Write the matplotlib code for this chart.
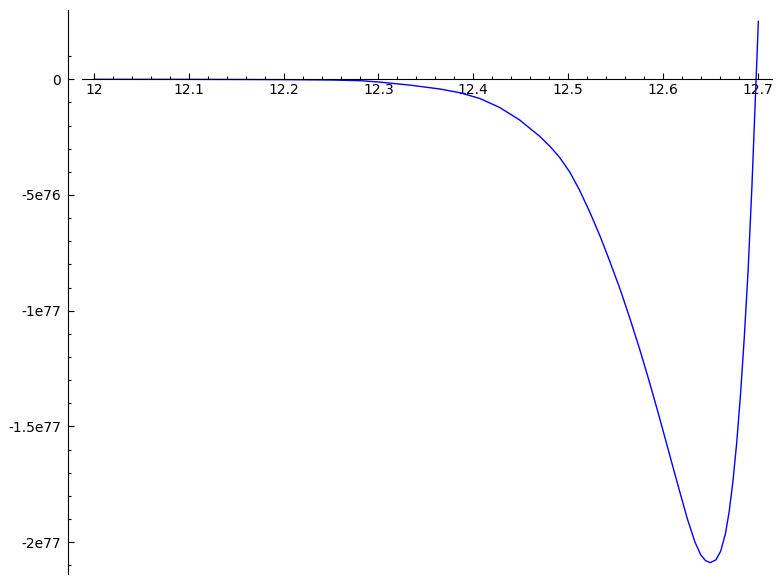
import matplotlib
matplotlib.use('Agg')
import matplotlib.pyplot as plt
from matplotlib.ticker import FixedLocator

# points (y in units of 1e77)
x_vals = [12.0, 12.1, 12.15, 12.2, 12.25, 12.281, 12.301, 12.333, 12.365, 12.386,
          12.407, 12.428, 12.449, 12.470, 12.481, 12.491, 12.502, 12.512, 12.523,
          12.534, 12.544, 12.555, 12.565, 12.576, 12.586, 12.596, 12.606, 12.616,
          12.626, 12.634, 12.640, 12.645, 12.650, 12.656, 12.661, 12.666, 12.670,
          12.674, 12.678, 12.682, 12.686, 12.690, 12.694, 12.698, 12.7008]
y_vals = [0.0, -0.0003, -0.0008, -0.0015, -0.003, -0.006, -0.012, -0.025, -0.042, -0.058,
          -0.083, -0.122, -0.176, -0.246, -0.290, -0.337, -0.402, -0.478, -0.574,
          -0.680, -0.786, -0.908, -1.030, -1.172, -1.310, -1.455, -1.605, -1.755,
          -1.901, -2.001, -2.055, -2.080, -2.089, -2.077, -2.040, -1.965, -1.869,
          -1.737, -1.569, -1.361, -1.113, -0.825, -0.465, -0.045, 0.250]
scale = 1e77

x_ticks = [12.0, 12.1, 12.2, 12.3, 12.4, 12.5, 12.6, 12.7]
x_labels = ['12', '12.1', '12.2', '12.3', '12.4', '12.5', '12.6', '12.7']
y_ticks = [0, -5e76, -1e77, -1.5e77, -2e77]
y_labels = ['0', '-5e76', '-1e77', '-1.5e77', '-2e77']

fig = plt.figure(figsize=(7.82, 5.84), dpi=100)
ax = fig.add_axes([82 / 782, 10 / 584, 690 / 782, 564 / 584])

ax.plot(x_vals, [v * scale for v in y_vals], color='blue', linewidth=1.0)

ax.set_xlim(11.9872, 12.7152)
ax.set_ylim(-2.138e77, 0.2995e77)

# sage-like axes
ax.spines['top'].set_visible(False)
ax.spines['right'].set_visible(False)
ax.spines['bottom'].set_position(('data', 0))
ax.spines['left'].set_position(('outward', 10))

ax.set_xticks(x_ticks, x_labels)
ax.set_yticks(y_ticks, y_labels)
ax.xaxis.set_minor_locator(FixedLocator([12 + 0.02 * i for i in range(36)]))
ax.yaxis.set_minor_locator(FixedLocator([1e76 * i for i in range(-21, 2)]))

ax.tick_params(axis='both', which='major', direction='in', length=4, width=0.8, labelsize=10)
ax.tick_params(axis='both', which='minor', direction='in', length=2, width=0.8)
ax.tick_params(axis='x', which='major', pad=3)
ax.tick_params(axis='y', which='major', pad=5)

fig.savefig('out.png', dpi=100)
